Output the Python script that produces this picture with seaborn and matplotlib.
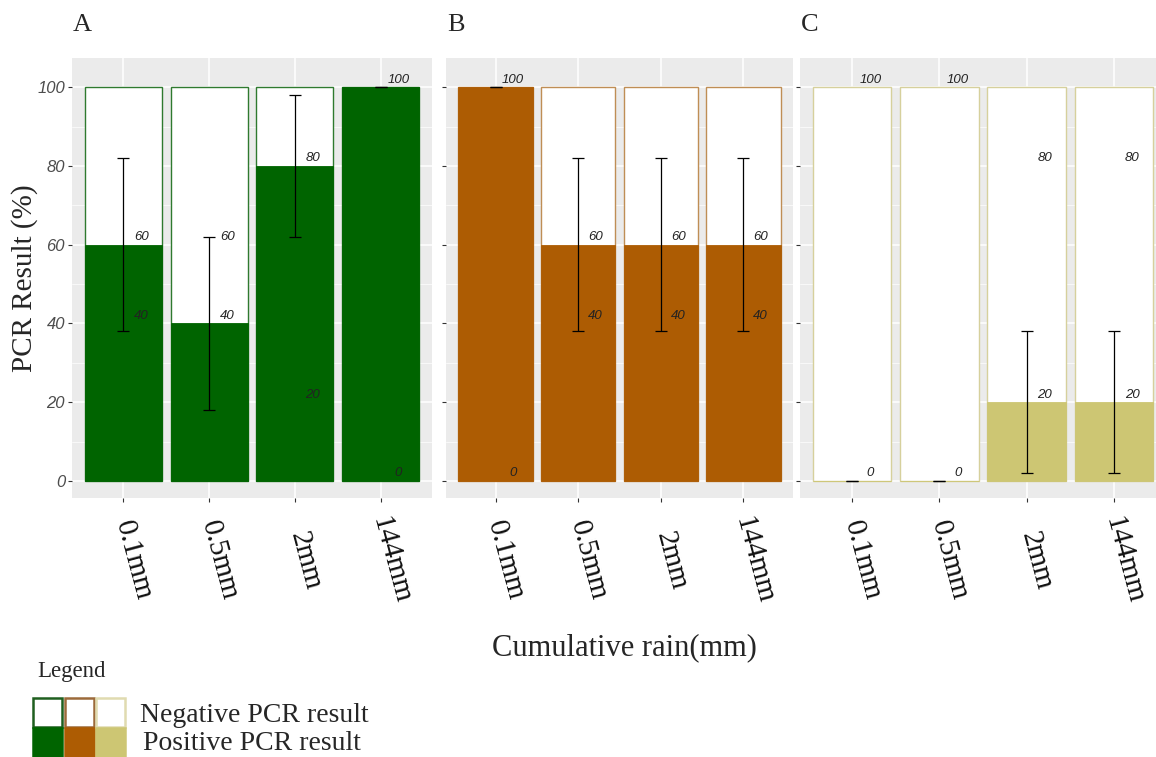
import numpy as np
import pandas as pd
import matplotlib.pyplot as plt
from matplotlib.patches import Rectangle
from matplotlib.transforms import ScaledTranslation
import seaborn as sns

# --- data ---
rain = ["0.1mm", "0.5mm", "2mm", "144mm"]
panel_names = ["A", "B", "C"]
panel_colors = ["#006400", "#AD5C03", "#CDC673"]
edge_colors = ["#2F7A2F", "#BF8E55", "#D6D09C"]
positive_A = [60, 40, 80, 100]
positive_B = [100, 60, 60, 60]
positive_C = [0, 0, 20, 20]
error_A = [22, 22, 18, 0]
error_B = [0, 22, 22, 22]
error_C = [0, 0, 18, 18]
y_ticks = [0, 20, 40, 60, 80, 100]

positives = [positive_A, positive_B, positive_C]
errors = [error_A, error_B, error_C]

sns.set_theme(style="darkgrid", rc={"axes.facecolor": "#EBEBEB", "grid.color": "white"})
plt.rcParams["font.family"] = ["Liberation Sans", "DejaVu Sans"]
SERIF = ["Liberation Serif", "DejaVu Serif"]

W, H = 1156, 757
fig = plt.figure(figsize=(W / 100, H / 100), dpi=100)

def fx(px):
    return px / W

def fy(py):
    return 1 - py / H

# panel boxes in pixels: left, right
boxes = [(72, 432), (446, 793), (800, 1166)]
top_px, bot_px = 58, 498
shift = ScaledTranslation(10 / 100, 0, fig.dpi_scale_trans)

for i, (name, col) in enumerate(zip(panel_names, panel_colors)):
    l, r = boxes[i]
    ax = fig.add_axes([fx(l), fy(bot_px), fx(r - l), (bot_px - top_px) / H])
    df = pd.DataFrame({"rain": rain, "positive": positives[i],
                       "negative": [100 - p for p in positives[i]],
                       "err": errors[i]})
    df["total"] = df["positive"] + df["negative"]

    # white "negative" bar behind, coloured "positive" bar in front
    sns.barplot(data=df, x="rain", y="total", order=rain, color="white",
                edgecolor=edge_colors[i], linewidth=1.0, width=0.9, saturation=1,
                errorbar=None, ax=ax)
    sns.barplot(data=df, x="rain", y="positive", order=rain, color=col,
                edgecolor=col, linewidth=0.6, width=0.9, saturation=1,
                errorbar=None, ax=ax)
    xs = np.arange(len(rain))
    ax.errorbar(xs, df["positive"], yerr=df["err"], fmt="none", ecolor="black",
                elinewidth=0.9, capsize=4.5, capthick=0.9, zorder=5)

    for x, p, n in zip(xs, df["positive"], df["negative"]):
        for v in (p, n):
            ax.text(x + 0.21, v + 0.4, str(v), ha="center", va="bottom",
                    fontsize=9.5, fontstyle="italic", color="#222222", zorder=6)

    ax.set_xlim(-0.6, 3.6)
    ax.set_ylim(-4.3, 107.4)
    ax.set_yticks(y_ticks)
    ax.set_yticks([10, 30, 50, 70, 90], minor=True)
    ax.grid(True, which="major", color="white", linewidth=1.1)
    ax.grid(True, which="minor", axis="y", color="white", linewidth=0.5)
    ax.set_axisbelow(True)
    for s in ax.spines.values():
        s.set_visible(False)
    ax.tick_params(axis="both", which="major", length=3, width=0.8,
                   color="#333333", bottom=True, left=True)
    ax.tick_params(axis="both", which="minor", length=0)
    ax.tick_params(axis="y", labelsize=12, labelcolor="#4D4D4D", pad=2)
    ax.tick_params(axis="x", pad=42)
    ax.set_xticks(xs)
    ax.set_xticklabels(rain, rotation=-75, ha="center", va="center",
                       rotation_mode="anchor", fontsize=21, family=SERIF,
                       color="#111111")
    for lab in ax.get_xticklabels():
        lab.set_transform(lab.get_transform() + shift)
    if i == 0:
        for lab in ax.get_yticklabels():
            lab.set_fontstyle("italic")
    else:
        ax.set_yticklabels([])
    ax.set_xlabel("")
    ax.set_ylabel("")

    fig.text(fx(l + 1), fy(25), name, fontsize=19, family=SERIF, va="center", ha="left")

fig.text(fx(25), fy(278), "PCR Result (%)", rotation=90, ha="center", va="center",
         fontsize=21, family=SERIF)
fig.text(fx(624), fy(648), "Cumulative rain(mm)", ha="center", va="center",
         fontsize=22, family=SERIF)

# custom legend
fig.text(fx(37), fy(671), "Legend", ha="left", va="center", fontsize=16.5, family=SERIF)
sq = 29
legend_edges = ["#1F5F1F", "#9C6A3A", "#E0DBB0"]
for j, col in enumerate(panel_colors):
    x0 = 33 + j * 31.5
    fig.add_artist(Rectangle((fx(x0), fy(727)), fx(sq), sq / H, transform=fig.transFigure,
                             facecolor="white", edgecolor=legend_edges[j], linewidth=1.8))
    fig.add_artist(Rectangle((fx(x0), fy(757)), fx(sq), sq / H, transform=fig.transFigure,
                             facecolor=col, edgecolor=col, linewidth=1.8))
fig.text(fx(140), fy(715), "Negative PCR result", ha="left", va="center",
         fontsize=20, family=SERIF)
fig.text(fx(143), fy(743), "Positive PCR result", ha="left", va="center",
         fontsize=20, family=SERIF)

fig.savefig("out.png", dpi=100)
